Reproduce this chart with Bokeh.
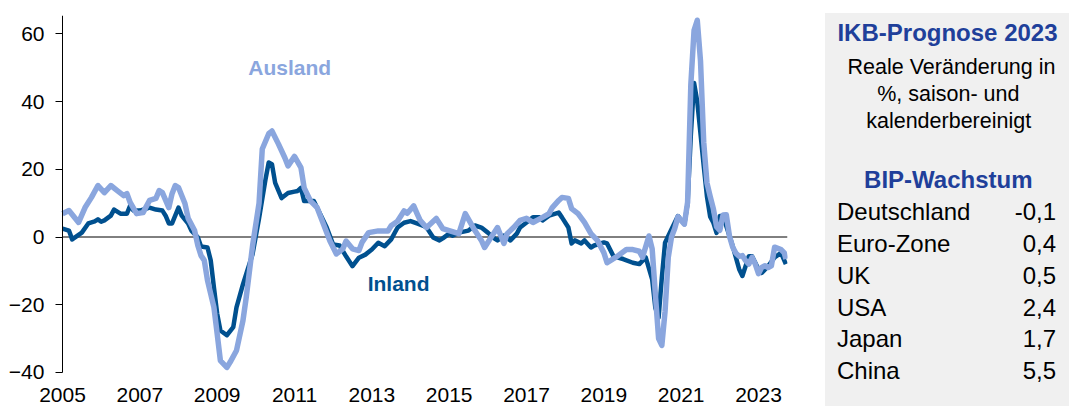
from bokeh.plotting import figure
from bokeh.models import Range1d, Label, FixedTicker, Div
from bokeh.layouts import row
from bokeh.embed import file_html
from bokeh.resources import INLINE

# ---------------- data (months since Jan 2005, % change) ----------------
ausland_month = [0, 2, 5, 7, 9, 11, 13, 15, 17, 19, 20, 21, 23, 25, 27, 29, 30, 31, 33, 34,
                 35, 36, 38, 39, 41, 42, 43, 44, 45, 47, 48, 49, 51, 52, 54, 56, 57, 59, 61, 62,
                 64, 65, 67, 69, 70, 72, 74, 75, 77, 79, 81, 83, 85, 87, 88, 90, 92, 93, 95, 98,
                 101, 102, 104, 106, 107, 109, 110, 111, 113, 116, 118, 120, 123, 125, 128, 130, 131, 133, 135, 137,
                 138, 140, 142, 144, 146, 149, 151, 152, 154, 155, 157, 158, 160, 162, 164, 166, 168, 169, 172, 175,
                 177, 179, 180, 182, 183, 184, 185, 186, 187, 188, 189, 190, 191, 193, 194, 195, 196, 197, 198, 199,
                 200, 201, 202, 203, 204, 205, 206, 207, 208, 209, 210, 211, 212, 213, 214, 215, 216, 217, 218, 219,
                 220, 221, 223, 224, 224.5]
ausland_value = [6.9, 7.8, 4.3, 8.7, 11.7, 15.2, 13.1, 15.2, 13.7, 12.2, 12.8, 10.2, 6.9, 7.2, 10.8, 11.4, 13.7, 13.1, 8.7, 12.8,
                 15.2, 14.6, 9.9, 5.5, 1.9, -2.5, -5.5, -6.9, -12.8, -20.8, -28.5, -36.5, -38.5, -37.0, -33.5, -24.7, -18.0, -2.5, 10.0, 26.0,
                 30.5, 31.3, 27.5, 23.4, 21.0, 23.8, 20.5, 14.5, 10.6, 8.7, 3.8, -1.2, -5.0, -3.5, -1.2, -3.5, -4.0, -1.5, 1.3, 1.8,
                 1.8, 3.3, 4.7, 7.7, 7.0, 9.2, 7.0, 4.9, 2.8, 5.5, 2.5, 1.9, 1.0, 6.9, 1.9, -1.0, -3.1, -0.1, 2.8, -1.9,
                 1.0, 2.8, 4.9, 5.5, 4.3, 5.8, 6.9, 8.7, 10.8, 11.7, 11.4, 8.4, 6.9, 4.3, 1.0, -1.0, -4.6, -7.6, -5.8, -3.7,
                 -3.7, -4.2, -6.0, 0.3, -3.5, -17.0, -30.0, -32.0, -22.0, -6.0, 0.0, 2.5, 6.0, 3.8, 10.3, 45.0, 61.0, 64.0, 52.0, 28.0,
                 16.0, 12.0, 8.3, 3.0, 2.0, 6.5, 6.6, 0.2, -3.0, -4.8, -5.7, -5.5, -7.0, -8.0, -6.0, -8.0, -10.8, -9.0, -8.5, -9.0,
                 -8.5, -3.0, -3.7, -4.7, -6.5]

inland_month = [0, 2, 3, 6, 8, 10, 11, 12, 13, 15, 16, 18, 20, 21, 22, 24, 26, 27, 29, 31,
                32, 33, 34, 36, 37, 39, 40, 42, 43, 45, 46, 47, 48, 49, 51, 53, 54, 56, 57, 59,
                61, 63, 64, 65, 66, 68, 70, 72, 73, 74, 75, 78, 80, 82, 84, 86, 88, 90, 92, 94,
                96, 98, 100, 102, 104, 106, 108, 110, 112, 113, 115, 117, 118, 120, 121, 123, 126, 128, 130, 132,
                134, 135, 137, 139, 141, 142, 144, 146, 148, 149, 151, 154, 155, 157, 158, 159, 161, 162, 164, 165,
                168, 169, 171, 174, 177, 179, 181, 183, 184, 185, 186, 187, 189, 191, 193, 194, 195, 196, 197, 199,
                200, 201, 202, 203, 204, 205, 207, 208, 210, 211, 213, 214, 216, 217, 219, 221, 223, 224.5]
inland_value = [2.5, 1.9, -0.7, 1.3, 4.0, 4.6, 5.2, 4.5, 4.9, 6.3, 8.1, 6.9, 6.9, 9.3, 7.8, 7.8, 8.4, 8.7, 8.1, 7.8,
                6.3, 4.0, 4.0, 8.7, 6.3, 4.0, 1.9, -0.1, -2.8, -3.1, -6.9, -14.9, -22.6, -27.6, -29.0, -26.6, -20.8, -14.0, -11.0, -5.0,
                5.5, 17.0, 22.0, 21.5, 16.0, 11.5, 13.0, 13.4, 13.6, 14.5, 10.6, 10.6, 6.7, 2.8, -2.2, -2.5, -5.7, -8.6, -6.1, -5.2,
                -3.7, -1.7, -2.7, -0.7, 2.8, 4.2, 4.7, 4.0, 3.3, 2.8, -0.1, -1.0, -0.4, 1.0, 0.4, 1.3, 1.9, 3.4, 2.8, 1.3,
                -0.4, -1.0, 0.4, -1.0, 1.0, 2.8, 4.3, 5.8, 5.8, 4.9, 6.3, 7.2, 5.8, 2.8, -1.9, -1.0, -1.9, -1.0, -3.1, -2.5,
                -1.6, -1.9, -5.7, -6.5, -7.6, -8.0, -6.0, -12.5, -21.0, -23.8, -12.0, -1.7, 2.3, 6.2, 3.8, 10.0, 30.0, 45.5, 40.0, 21.0,
                12.0, 6.0, 4.2, 1.2, 6.2, 6.2, 0.3, -2.7, -9.5, -11.5, -5.7, -5.7, -9.5, -10.6, -8.6, -6.0, -4.7, -8.0]

tick_years = [2005, 2007, 2009, 2011, 2013, 2015, 2017, 2019, 2021, 2023]
y_ticks = [-40, -20, 0, 20, 40, 60]

panel_title = "IKB-Prognose 2023"
panel_subtitle = ["Reale Veränderung in", "%, saison- und", "kalenderbereinigt"]
table_title = "BIP-Wachstum"
countries = ["Deutschland", "Euro-Zone", "UK", "USA", "Japan", "China"]
gdp_growth = [-0.1, 0.4, 0.5, 2.4, 1.7, 5.5]

# ---------------- styles ----------------
FONT = "Liberation Sans"
DARK = "#00508f"
LIGHT = "#8aa6de"
TITLE_BLUE = "#203f9a"
PANEL_GREY = "#f0f0f0"

X_START, X_END = 0, 225          # time axis domain (months)
Y_MIN, Y_MAX = -40, 65.4         # value axis domain

# frame covers page x 0..787 and y 15..406; month 0 sits at x=62, -40 at y=372
p = figure(width=825, height=406, x_range=Range1d(-19.24, X_END), y_range=Range1d(-50.04, Y_MAX),
           output_backend="svg", toolbar_location=None,
           min_border_left=0, min_border_right=38, min_border_top=15, min_border_bottom=0)
p.outline_line_color = None
p.grid.visible = False
p.background_fill_color = "white"
p.border_fill_color = "white"

tick_months = [(y - 2005) * 12 for y in tick_years]
p.xaxis.ticker = FixedTicker(ticks=tick_months)
p.xaxis.major_label_overrides = {m: str(y) for m, y in zip(tick_months, tick_years)}
p.xaxis.fixed_location = Y_MIN
p.xaxis.axis_line_color = None
p.xaxis.major_tick_line_color = None
p.xaxis.minor_tick_line_color = None
p.xaxis.major_tick_out = 0
p.xaxis.major_tick_in = 0
p.xaxis.major_label_standoff = 16
p.xaxis.major_label_text_font = FONT
p.xaxis.major_label_text_font_size = "21px"
p.xaxis.major_label_text_color = "black"

p.yaxis.ticker = FixedTicker(ticks=y_ticks)
p.yaxis.fixed_location = X_START
p.yaxis.bounds = (Y_MIN, Y_MAX)
p.yaxis.axis_line_color = "black"
p.yaxis.axis_line_width = 1
p.yaxis.major_tick_line_color = "black"
p.yaxis.major_tick_out = 7
p.yaxis.major_tick_in = 0
p.yaxis.minor_tick_line_color = None
p.yaxis.major_label_standoff = 11
p.yaxis.major_label_text_font = FONT
p.yaxis.major_label_text_font_size = "21px"
p.yaxis.major_label_text_color = "black"

# zero line across the time axis domain
p.segment(x0=[X_START], y0=[0], x1=[X_END], y1=[0], line_color="black", line_width=1)

p.line(inland_month, inland_value, line_width=4.5, line_color=DARK, line_join="round")
p.line(ausland_month, ausland_value, line_width=5.5, line_color=LIGHT, line_join="round")

p.add_layout(Label(x=70.5, y=49.9, text="Ausland", text_font=FONT, text_font_size="21px",
                   text_font_style="bold", text_color=LIGHT, text_align="center",
                   text_baseline="middle"))
p.add_layout(Label(x=104.3, y=-13.6, text="Inland", text_font=FONT, text_font_size="21px",
                   text_font_style="bold", text_color=DARK, text_align="center",
                   text_baseline="middle"))

# ---------------- side panel (HTML, coordinates in panel pixels) ----------------
PANEL_W, PANEL_H, PANEL_TOP = 244, 406, 13
LINE_BOX = 40

def text_box(x, cy, text, size, bold=False, color="black", align="center"):
    top = cy - LINE_BOX / 2
    if align == "center":
        left, width = x - 150, 300
    elif align == "left":
        left, width = x, 300
    else:
        left, width = x - 300, 300
    return (f'<div style="position:absolute;left:{left}px;top:{top}px;width:{width}px;'
            f'height:{LINE_BOX}px;line-height:{LINE_BOX}px;text-align:{align};white-space:nowrap;'
            f'font-size:{size};font-weight:{"bold" if bold else "normal"};color:{color};">{text}</div>')

parts = [f'<div style="position:relative;width:{PANEL_W}px;height:{PANEL_H}px;background:white;'
         f'font-family:\'{FONT}\',Arial,sans-serif;overflow:hidden;margin:0;padding:0;">',
         f'<div style="position:absolute;left:0;top:{PANEL_TOP}px;width:{PANEL_W}px;'
         f'height:{PANEL_H - PANEL_TOP}px;background:{PANEL_GREY};"></div>']
parts.append(text_box(122.5, 33.4, panel_title, "24px", bold=True, color=TITLE_BLUE))
for cx, cy, line in zip([126.5, 123.3, 123.7], [66.5, 93.5, 120.8], panel_subtitle):
    parts.append(text_box(cx, cy, line, "21.5px"))
parts.append(text_box(123.3, 180.0, table_title, "24px", bold=True, color=TITLE_BLUE))
for i, (name, v) in enumerate(zip(countries, gdp_growth)):
    cy = 212.4 + i * 31.7
    parts.append(text_box(12, cy, name, "24px", align="left"))
    parts.append(text_box(231, cy, f"{v:.1f}".replace(".", ","), "24px", align="right"))
parts.append('</div>')

panel = Div(text="".join(parts), width=PANEL_W, height=PANEL_H, margin=0)

layout = row(p, panel)
open("out.html", "w").write(file_html(layout, INLINE))
